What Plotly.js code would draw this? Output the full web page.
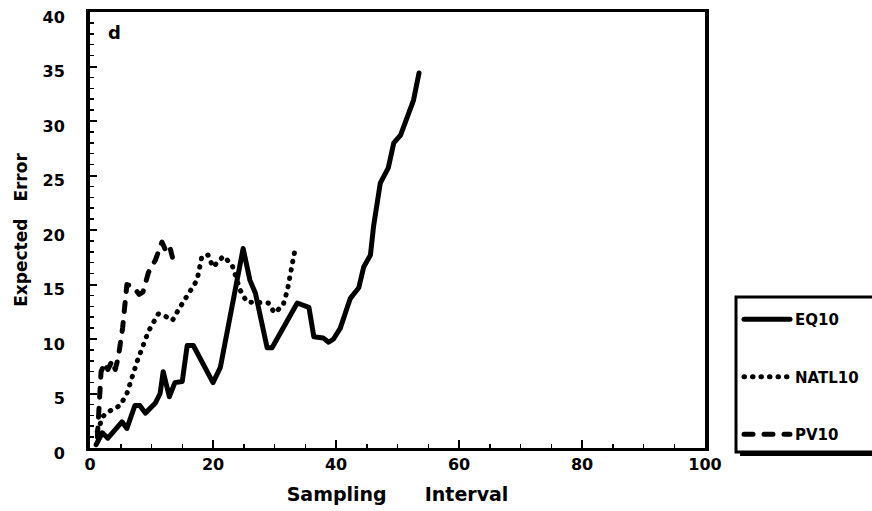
<!DOCTYPE html>
<html>
<head>
<meta charset="utf-8">
<script src="https://cdn.plot.ly/plotly-3.0.1.min.js"></script>
<style>
  html, body { margin: 0; padding: 0; background: #fff; }
  #chart { width: 872px; height: 511px; }
  path.js-line { stroke-linejoin: round; stroke-linecap: round; }
</style>
</head>
<body>
<div id="chart"></div>
<script>
// ---- data ----
const eqX = [1, 2, 2.9, 5.2, 6, 7.3, 8.1, 9, 10.6, 11.4, 11.9, 12.9, 13.8, 15, 15.8, 16.8, 20, 21.2, 24.9, 26, 26.9, 28.8, 29.6, 33.7, 35.6, 36.4, 37.9, 38.8, 39.6, 40.7, 42.3, 43.7, 44.5, 45.6, 46.1, 47.2, 48.5, 49.4, 50.5, 51.6, 52.6, 53.5];
const eqY = [0.3, 1.4, 0.9, 2.4, 1.8, 3.9, 3.9, 3.2, 4.1, 5.0, 7.0, 4.7, 6.0, 6.1, 9.4, 9.4, 6.0, 7.4, 18.3, 15.4, 14.2, 9.2, 9.2, 13.3, 12.9, 10.2, 10.1, 9.7, 10.0, 11.0, 13.7, 14.7, 16.6, 17.7, 20.3, 24.3, 25.7, 28.0, 28.7, 30.5, 31.9, 34.4];

const natX = [1.2, 2.1, 2.9, 4.9, 6, 7.7, 9.5, 11.1, 12.2, 13.4, 14.4, 17.4, 18.2, 19.2, 20, 21.7, 23.1, 24.4, 25.5, 29, 30, 31.4, 32.1, 33.4];
const natY = [1.5, 2.9, 3.3, 3.9, 5.0, 8.0, 10.7, 12.3, 12.1, 11.7, 12.7, 15.4, 17.6, 17.7, 16.6, 17.6, 16.8, 14.5, 13.4, 13.3, 12.4, 13.1, 14.5, 18.4];

const pvX = [1.2, 1.8, 2.4, 2.9, 3.6, 4.1, 4.6, 5.3, 6, 7, 8, 8.6, 9.5, 10.6, 11.7, 12.4, 13, 13.4];
const pvY = [1.0, 7.0, 7.8, 7.2, 8.0, 7.2, 8.3, 11.0, 15.0, 14.8, 14.1, 14.3, 16.1, 17.2, 18.9, 18.0, 18.4, 17.5];

const seriesNames = ['EQ10', 'NATL10', 'PV10'];
const xTickVals = [0, 20, 40, 60, 80, 100];
const yTickVals = [0, 5, 10, 15, 20, 25, 30, 35, 40];
const xTitle = 'Sampling\u2003\u2003Interval';
const yTitle = 'Expected\u2002\u2002Error';
const panelLabel = 'd';

const FONT = 'DejaVu Sans, sans-serif';

const traces = [
  { x: eqX, y: eqY, name: seriesNames[0], mode: 'lines', legendgroup: 'a',
    line: { color: '#000', width: 5, dash: 'solid' } },
  { x: natX, y: natY, name: seriesNames[1], mode: 'lines', legendgroup: 'b',
    line: { color: '#000', width: 5, dash: '0.5px,8px' } },
  { x: pvX, y: pvY, name: seriesNames[2], mode: 'lines', legendgroup: 'c',
    line: { color: '#000', width: 5, dash: '9px,11px' } }
];

// paper coords helpers for the legend frame (plot area 90..705 x, 12..448 y)
const px = v => (v - 90) / 615;
const py = v => (448 - v) / 436;

const layout = {
  width: 872, height: 511,
  margin: { l: 90, r: 167, t: 12, b: 63, autoexpand: false },
  paper_bgcolor: '#fff', plot_bgcolor: '#fff',
  font: { family: FONT, color: '#000', size: 16, weight: 'bold' },
  showlegend: true,
  xaxis: {
    range: [0, 100], tickvals: xTickVals, ticktext: xTickVals.map(String),
    ticks: 'inside', ticklen: 8, tickwidth: 2, tickcolor: '#000',
    minor: { dtick: 5, tick0: 0, ticks: 'inside', ticklen: 4, tickwidth: 1.5, tickcolor: '#000' },
    showline: true, linewidth: 3, linecolor: '#000', mirror: true,
    showgrid: false, zeroline: false,
    tickfont: { family: FONT, size: 16, weight: 'bold', color: '#000' },
    title: { text: xTitle, font: { family: FONT, size: 19, weight: 'bold', color: '#000' }, standoff: 15 }
  },
  yaxis: {
    range: [0, 40], tickvals: yTickVals, ticktext: yTickVals.map(String),
    ticks: 'inside', ticklen: 7, tickwidth: 2, tickcolor: '#000',
    minor: { dtick: 1, tick0: 0, ticks: 'inside', ticklen: 4, tickwidth: 1.5, tickcolor: '#000' },
    showline: true, linewidth: 4, linecolor: '#000', mirror: true,
    showgrid: false, zeroline: false,
    ticklabelstandoff: 18, ticklabelshift: 5,
    tickfont: { family: FONT, size: 16, weight: 'bold', color: '#000' },
    title: { text: yTitle, font: { family: FONT, size: 17, weight: 'bold', color: '#000' }, standoff: 12 }
  },
  legend: {
    x: px(739), xanchor: 'left', y: py(303), yanchor: 'top',
    bgcolor: 'rgba(0,0,0,0)', borderwidth: 0,
    font: { family: FONT, size: 15, weight: 'bold', color: '#000' },
    itemwidth: 46, traceorder: 'grouped', tracegroupgap: 35
  },
  shapes: [
    { type: 'rect', xref: 'paper', yref: 'paper', layer: 'above',
      x0: px(740), x1: px(900), y0: py(456), y1: py(301),
      fillcolor: '#000', line: { width: 0 } },
    { type: 'rect', xref: 'paper', yref: 'paper', layer: 'above',
      x0: px(736), x1: px(895), y0: py(452), y1: py(297),
      fillcolor: '#fff', line: { color: '#000', width: 3 } }
  ],
  annotations: [
    { text: panelLabel, xref: 'paper', yref: 'paper', x: px(106), y: py(20),
      xanchor: 'left', yanchor: 'top', showarrow: false,
      font: { family: FONT, size: 18, weight: 'bold', color: '#000' } }
  ]
};

Plotly.newPlot('chart', traces, layout, { staticPlot: true, displayModeBar: false });
</script>
</body>
</html>
